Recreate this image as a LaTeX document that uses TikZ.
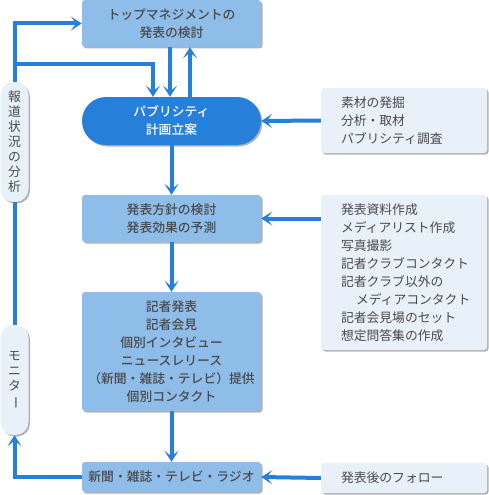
\documentclass[tikz,border=0pt]{standalone}
\usepackage{fontspec}
\setmainfont{Noto Sans CJK JP}[BoldFont={Noto Sans CJK JP Medium}]
\usetikzlibrary{arrows.meta,positioning,shadows}
\definecolor{planblue}{HTML}{2680D9}
\definecolor{boxblue}{HTML}{8FBDEA}
\definecolor{notepale}{HTML}{E8F0FA}
\definecolor{textgray}{HTML}{4A4A4A}
\tikzset{
	boxshadow/.style={drop shadow={shadow xshift=1.5pt, shadow yshift=-1.5pt, fill=black!30, opacity=1}},
	stepbox/.style={rectangle, rounded corners=3pt, fill=boxblue, boxshadow, minimum width=179pt, inner sep=0pt, align=center, text=textgray, font=\bfseries\fontsize{12.8}{18}\selectfont},
	planbox/.style={stepbox, fill=planblue, rounded corners=24pt, text=white},
	notebox/.style={rectangle, rounded corners=3pt, fill=notepale, boxshadow, minimum width=166pt, inner xsep=20pt, inner ysep=0pt, text width=126pt, align=left, text=textgray, font=\fontsize{12.8}{18}\selectfont},
	sidepill/.style={rectangle, rounded corners=13pt, fill=notepale, boxshadow, minimum width=28pt, inner sep=0pt, align=center, text=textgray, font=\fontsize{12.8}{15}\selectfont},
	flowline/.style={draw=planblue, line width=4pt},
	flowarrow/.style={flowline, -{Stealth[length=11pt, width=14pt, inset=5.5pt]}}
}
\begin{document}
\begin{tikzpicture}[x=1pt, y=-1pt]
	\useasboundingbox (0,0) rectangle (489,495);
	
	% Main flow
	\node[stepbox, minimum height=47pt] (top) at (171.5,23.5) {トップマネジメントの\\発表の検討};
	\node[planbox, minimum height=48pt] (plan) at (171.5,121) {パブリシティ\\計画立案};
	\node[stepbox, minimum height=47pt] (policy) at (171.5,218.5) {発表方針の検討\\発表効果の予測};
	\node[stepbox, minimum height=119pt] (release) at (171.5,351.5) {記者発表\\記者会見\\個別インタビュー\\ニュースレリース\\（新聞・雑誌・テレビ）提供\\個別コンタクト};
	\node[stepbox, minimum height=30pt] (media) at (171.5,477) {新聞・雑誌・テレビ・ラジオ};
	
	% Notes on the right
	\node[notebox, minimum height=65pt] (material) at (404,120.5) {素材の発掘\\分析・取材\\パブリシティ調査};
	\node[notebox, minimum height=155pt] (prepare) at (404,272.5) {発表資料作成\\メディアリスト作成\\写真撮影\\記者クラブコンタクト\\記者クラブ以外の\\\hspace*{15pt}メディアコンタクト\\記者会見場のセット\\想定問答集の作成};
	\node[notebox, minimum height=30pt] (follow) at (404,478) {発表後のフォロー};
	
	% Pills on the left
	\node[sidepill, minimum height=120pt] (analysis) at (14.5,142) {報\\道\\状\\況\\の\\分\\析};
	\node[sidepill, minimum height=110pt] (monitor) at (14.5,380) {モ\\ニ\\タ\\\rotatebox[origin=c]{-90}{ー}};
	\coordinate (branch) at (14.5,64);
	
	% Connectors
	\draw[flowarrow] ([xshift=-1.5pt]top.south) -- ([xshift=-1.5pt]plan.north);
	\draw[flowarrow] ([xshift=18.5pt]plan.north) -- ([xshift=18.5pt]top.south);
	\draw[flowarrow] (plan.south) -- (policy.north);
	\draw[flowarrow] (policy.south) -- (release.north);
	\draw[flowarrow] (release.south) -- (media.north);
	\draw[flowarrow] (material.west) -- (plan.east);
	\draw[flowarrow] (policy.east -| prepare.west) -- (policy.east);
	\draw[flowarrow] (follow.west) -- (media.east);
	\draw[flowarrow] (media.west) -| (monitor.south);
	\draw[flowline] (monitor.north) -- (analysis.south);
	\draw[flowarrow] (analysis.north) |- (top.west);
	\draw[flowarrow] (branch) -| ([xshift=-18.5pt]plan.north);
	
\end{tikzpicture}
\end{document}
